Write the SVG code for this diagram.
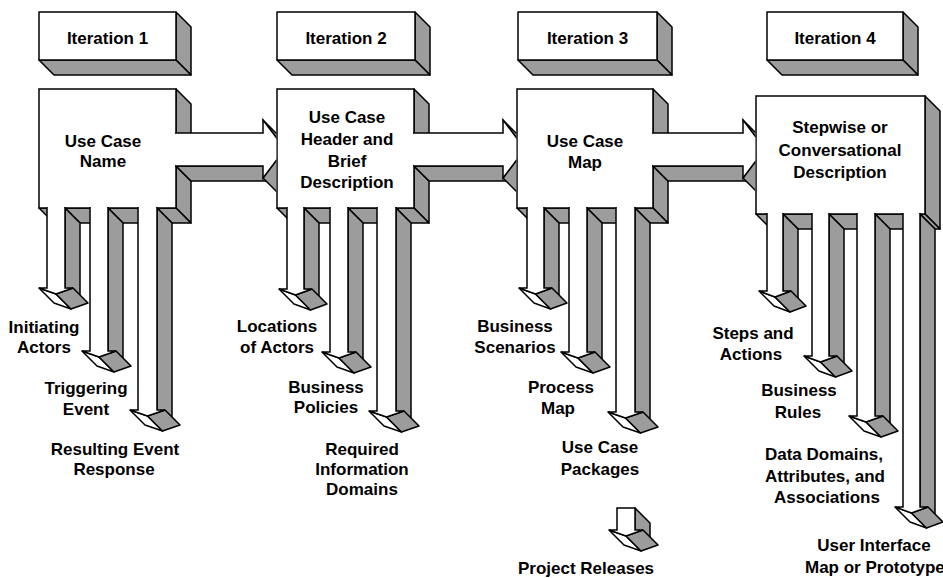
<svg xmlns="http://www.w3.org/2000/svg" width="943" height="578" viewBox="0 0 943 578">
<defs>
<style>
.g{fill:#9c9c9c;stroke:#000;stroke-width:1.5;stroke-linejoin:round}
.w{fill:#fff;stroke:#000;stroke-width:1.5;stroke-linejoin:round}
.f{fill:#fff;stroke:none}
.o{fill:none;stroke:#000;stroke-width:1.5;stroke-linecap:square;stroke-linejoin:miter}
.a{fill:#fff;stroke:#000;stroke-width:1.5;stroke-linecap:square;stroke-linejoin:miter}
text{font-family:"Liberation Sans",Arial,sans-serif;font-weight:bold;font-size:17px;text-anchor:middle;fill:#000}
</style>
<clipPath id="clip12"><rect x="170" y="100" width="106.3" height="120"/></clipPath>
<clipPath id="clip23"><rect x="408" y="100" width="108.3" height="120"/></clipPath>
<clipPath id="clip34"><rect x="647" y="100" width="108.3" height="120"/></clipPath>
</defs>
<rect width="943" height="578" fill="#fff"/>

<g id="iter1-header">
<polygon class="g" points="176,12 191,27 191,75 176,60"/>
<polygon class="g" points="39,60 176,60 191,75 54,75"/>
<rect class="w" x="39" y="12" width="137" height="48"/>
<text x="107.5" y="44">Iteration 1</text>
</g>
<g id="iter2-header">
<polygon class="g" points="415,12 430,27 430,75 415,60"/>
<polygon class="g" points="277,60 415,60 430,75 292,75"/>
<rect class="w" x="277" y="12" width="138" height="48"/>
<text x="346" y="44">Iteration 2</text>
</g>
<g id="iter3-header">
<polygon class="g" points="657,12 672,27 672,75 657,60"/>
<polygon class="g" points="518,60 657,60 672,75 533,75"/>
<rect class="w" x="518" y="12" width="139" height="48"/>
<text x="587.5" y="44">Iteration 3</text>
</g>
<g id="iter4-header">
<polygon class="g" points="903,12 918,27 918,75 903,60"/>
<polygon class="g" points="767,60 903,60 918,75 782,75"/>
<rect class="w" x="767" y="12" width="136" height="48"/>
<text x="835" y="44">Iteration 4</text>
</g>

<g id="box1">
<polygon class="g" points="176,89 191,104 191,148 176,133"/>
<polygon class="g" points="176,166 191,181 191,223 176,208"/>
<polygon class="g" points="157,208 176,208 191,223 172,223"/>
<polygon class="g" points="108,208 138,208 153,223 123,223"/>
<polygon class="g" points="65,208 90,208 105,223 80,223"/>
<polygon class="g" points="39,208 47,208 62,223 54,223"/>
<rect class="f" x="39" y="89" width="137" height="119"/>
<path class="o" d="M47,208 H39 V89 H176 V133 M176,166 V208 H157 M138,208 H108 M90,208 H65"/>
<text x="103" y="147">Use Case</text>
<text x="103" y="167">Name</text>
</g>
<g id="box2">
<polygon class="g" points="414,89 429,104 429,148 414,133"/>
<polygon class="g" points="414,166 429,181 429,223 414,208"/>
<polygon class="g" points="396,208 414,208 429,223 411,223"/>
<polygon class="g" points="348,208 377,208 392,223 363,223"/>
<polygon class="g" points="304,208 330,208 345,223 319,223"/>
<polygon class="g" points="277,208 287,208 302,223 292,223"/>
<rect class="f" x="277" y="89" width="137" height="119"/>
<path class="o" d="M287,208 H277 V89 H414 V133 M414,166 V208 H396 M377,208 H348 M330,208 H304"/>
<text x="347" y="123">Use Case</text>
<text x="347" y="145">Header and</text>
<text x="347" y="167">Brief</text>
<text x="347" y="188">Description</text>
</g>
<g id="box3">
<polygon class="g" points="653,89 668,104 668,148 653,133"/>
<polygon class="g" points="653,166 668,181 668,223 653,208"/>
<polygon class="g" points="635,208 653,208 668,223 650,223"/>
<polygon class="g" points="587,208 616,208 631,223 602,223"/>
<polygon class="g" points="544,208 569,208 584,223 559,223"/>
<polygon class="g" points="517,208 527,208 542,223 532,223"/>
<rect class="f" x="517" y="89" width="136" height="119"/>
<path class="o" d="M527,208 H517 V89 H653 V133 M653,166 V208 H635 M616,208 H587 M569,208 H544"/>
<text x="585" y="147">Use Case</text>
<text x="585" y="168">Map</text>
</g>
<g id="box4">
<polygon class="g" points="925,96 940,111 940,229 925,214"/>
<polygon class="g" points="920,214 925,214 940,229 935,229"/>
<polygon class="g" points="875,214 903,214 918,229 890,229"/>
<polygon class="g" points="829,214 857,214 872,229 844,229"/>
<polygon class="g" points="783,214 812,214 827,229 798,229"/>
<polygon class="g" points="756,214 767,214 782,229 771,229"/>
<rect class="f" x="756" y="96" width="169" height="118"/>
<path class="o" d="M767,214 H756 V96 H925 V214 H920 M903,214 H875 M857,214 H829 M812,214 H783"/>
<text x="840" y="133">Stepwise or</text>
<text x="840" y="156">Conversational</text>
<text x="840" y="178">Description</text>
</g>

<g id="connectors">
<g id="arrow-1-2" clip-path="url(#clip12)">
<polygon class="g" points="176,166 263,166 278,181 191,181"/>
<polygon class="g" points="263,120 285,149 300,164 278,135"/>
<polygon class="g" points="285,149 263,178 278,193 300,164"/>
<path class="a" d="M176,133 H263 V120 L285,149 L263,178 V166 H176"/>
</g>
<g id="arrow-2-3" clip-path="url(#clip23)">
<polygon class="g" points="414,166 503,166 518,181 429,181"/>
<polygon class="g" points="503,120 525,149 540,164 518,135"/>
<polygon class="g" points="525,149 503,178 518,193 540,164"/>
<path class="a" d="M414,133 H503 V120 L525,149 L503,178 V166 H414"/>
</g>
<g id="arrow-3-4" clip-path="url(#clip34)">
<polygon class="g" points="653,166 743,166 758,181 668,181"/>
<polygon class="g" points="743,120 765,149 780,164 758,135"/>
<polygon class="g" points="765,149 743,178 758,193 780,164"/>
<path class="a" d="M653,133 H743 V120 L765,149 L743,178 V166 H653"/>
</g>

<g id="arrow-1-initiating">
<polygon class="g" points="65,208 80,223 80,303 65,288"/>
<polygon class="w" points="39,288 56,294 71,309 54,303"/>
<polygon class="g" points="56,294 73,288 88,303 71,309"/>
<path class="a" d="M47,208 V288 H39 L56,294 L73,288 H65 V208"/>
</g>
<g id="arrow-1-triggering">
<polygon class="g" points="108,208 123,223 123,366 108,351"/>
<polygon class="w" points="82,351 99,357 114,372 97,366"/>
<polygon class="g" points="99,357 116,351 131,366 114,372"/>
<path class="a" d="M90,208 V351 H82 L99,357 L116,351 H108 V208"/>
</g>
<g id="arrow-1-resulting">
<polygon class="g" points="157,208 172,223 172,425 157,410"/>
<polygon class="w" points="130,410 147.5,416 162.5,431 145,425"/>
<polygon class="g" points="147.5,416 165,410 180,425 162.5,431"/>
<path class="a" d="M138,208 V410 H130 L147.5,416 L165,410 H157 V208"/>
</g>

<g id="arrow-2-locations">
<polygon class="g" points="304,208 319,223 319,304 304,289"/>
<polygon class="w" points="279,289 295.5,295 310.5,310 294,304"/>
<polygon class="g" points="295.5,295 312,289 327,304 310.5,310"/>
<path class="a" d="M287,208 V289 H279 L295.5,295 L312,289 H304 V208"/>
</g>
<g id="arrow-2-policies">
<polygon class="g" points="348,208 363,223 363,367 348,352"/>
<polygon class="w" points="322,352 339,358 354,373 337,367"/>
<polygon class="g" points="339,358 356,352 371,367 354,373"/>
<path class="a" d="M330,208 V352 H322 L339,358 L356,352 H348 V208"/>
</g>
<g id="arrow-2-domains">
<polygon class="g" points="396,208 411,223 411,426 396,411"/>
<polygon class="w" points="369,411 386.5,417 401.5,432 384,426"/>
<polygon class="g" points="386.5,417 404,411 419,426 401.5,432"/>
<path class="a" d="M377,208 V411 H369 L386.5,417 L404,411 H396 V208"/>
</g>

<g id="arrow-3-scenarios">
<polygon class="g" points="544,208 559,223 559,303 544,288"/>
<polygon class="w" points="519,288 535.5,294 550.5,309 534,303"/>
<polygon class="g" points="535.5,294 552,288 567,303 550.5,309"/>
<path class="a" d="M527,208 V288 H519 L535.5,294 L552,288 H544 V208"/>
</g>
<g id="arrow-3-process">
<polygon class="g" points="587,208 602,223 602,367 587,352"/>
<polygon class="w" points="561,352 578,358 593,373 576,367"/>
<polygon class="g" points="578,358 595,352 610,367 593,373"/>
<path class="a" d="M569,208 V352 H561 L578,358 L595,352 H587 V208"/>
</g>
<g id="arrow-3-packages">
<polygon class="g" points="635,208 650,223 650,427 635,412"/>
<polygon class="w" points="608,412 625.5,418 640.5,433 623,427"/>
<polygon class="g" points="625.5,418 643,412 658,427 640.5,433"/>
<path class="a" d="M616,208 V412 H608 L625.5,418 L643,412 H635 V208"/>
</g>
<g id="arrow-releases">
<polygon class="g" points="635,508 650,523 650,545 635,530"/>
<polygon class="w" points="609,530 626,536 641,551 624,545"/>
<polygon class="g" points="626,536 643,530 658,545 641,551"/>
<path class="a" d="M617,508 H635 V530 H643 L626,536 L609,530 H617 Z"/>
</g>

<g id="arrow-4-steps">
<polygon class="g" points="783,214 798,229 798,306 783,291"/>
<polygon class="w" points="759,291 775,297 790,312 774,306"/>
<polygon class="g" points="775,297 791,291 806,306 790,312"/>
<path class="a" d="M767,214 V291 H759 L775,297 L791,291 H783 V214"/>
</g>
<g id="arrow-4-rules">
<polygon class="g" points="829,214 844,229 844,371 829,356"/>
<polygon class="w" points="804,356 820.5,362 835.5,377 819,371"/>
<polygon class="g" points="820.5,362 837,356 852,371 835.5,377"/>
<path class="a" d="M812,214 V356 H804 L820.5,362 L837,356 H829 V214"/>
</g>
<g id="arrow-4-data">
<polygon class="g" points="875,214 890,229 890,431 875,416"/>
<polygon class="w" points="849,416 866,422 881,437 864,431"/>
<polygon class="g" points="866,422 883,416 898,431 881,437"/>
<path class="a" d="M857,214 V416 H849 L866,422 L883,416 H875 V214"/>
</g>
<g id="arrow-4-ui">
<polygon class="g" points="920,214 935,229 935,522 920,507"/>
<polygon class="w" points="895,507 911.5,513 926.5,528 910,522"/>
<polygon class="g" points="911.5,513 928,507 943,522 926.5,528"/>
<path class="a" d="M903,214 V507 H895 L911.5,513 L928,507 H920 V214"/>
</g>
</g>

<g id="labels">
<g id="label-initiating"><text x="44" y="333">Initiating</text><text x="44" y="353">Actors</text></g>
<g id="label-triggering"><text x="86" y="394">Triggering</text><text x="86" y="415">Event</text></g>
<g id="label-resulting"><text x="115" y="455">Resulting Event</text><text x="114" y="475">Response</text></g>
<g id="label-locations"><text x="277" y="332">Locations</text><text x="277" y="353">of Actors</text></g>
<g id="label-policies"><text x="326" y="393">Business</text><text x="326" y="413">Policies</text></g>
<g id="label-domains"><text x="362" y="455">Required</text><text x="362" y="475">Information</text><text x="362" y="495">Domains</text></g>
<g id="label-scenarios"><text x="515" y="332">Business</text><text x="515" y="353">Scenarios</text></g>
<g id="label-process"><text x="561" y="393">Process</text><text x="558" y="414">Map</text></g>
<g id="label-packages"><text x="600" y="453">Use Case</text><text x="600" y="475">Packages</text></g>
<g id="label-releases"><text x="586" y="574">Project Releases</text></g>
<g id="label-steps"><text x="753" y="339">Steps and</text><text x="751" y="360">Actions</text></g>
<g id="label-rules"><text x="799" y="396">Business</text><text x="798" y="418">Rules</text></g>
<g id="label-data"><text x="824" y="460">Data Domains,</text><text x="825" y="482">Attributes, and</text><text x="827" y="503">Associations</text></g>
<g id="label-ui"><text x="874" y="551">User Interface</text><text x="805" y="573" style="text-anchor:start">Map or Prototype</text></g>
</g>
</svg>
